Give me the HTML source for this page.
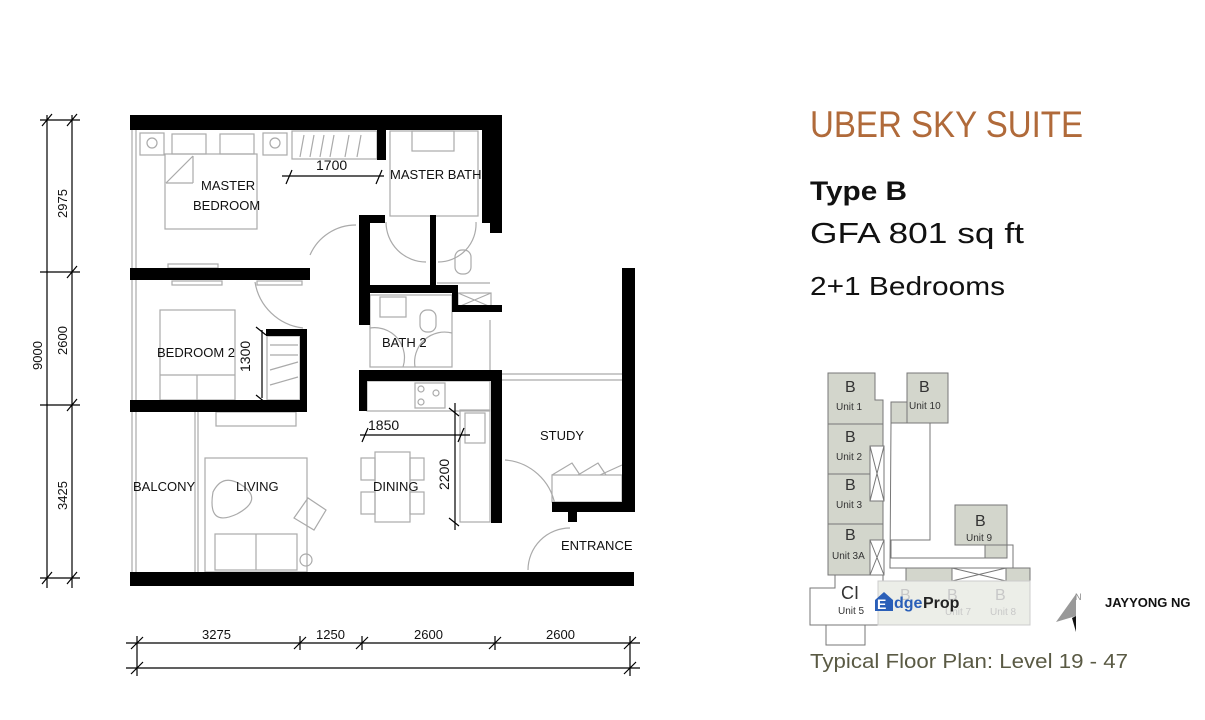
<!DOCTYPE html>
<html><head><meta charset="utf-8"><style>
html,body{margin:0;padding:0;background:#fff;}
svg{display:block;}
text{font-family:"Liberation Sans",sans-serif;}
</style></head><body>
<svg width="1205" height="720" viewBox="0 0 1205 720" xmlns="http://www.w3.org/2000/svg">
<rect width="1205" height="720" fill="#fff"/>

<!-- furniture / thin lines -->
<g fill="none" stroke="#aaa" stroke-width="1.2">
  <line x1="132" y1="130" x2="132" y2="572"/><line x1="136" y1="130" x2="136" y2="572"/>
  <rect x="165" y="154" width="92" height="75"/>
  <rect x="172" y="134" width="34" height="20"/><rect x="220" y="134" width="34" height="20"/>
  <line x1="166" y1="183" x2="193" y2="156"/><line x1="193" y1="156" x2="193" y2="183"/><line x1="166" y1="183" x2="193" y2="183"/>
  <rect x="140" y="133" width="24" height="22"/><circle cx="152" cy="143" r="5"/>
  <rect x="263" y="133" width="24" height="22"/><circle cx="275" cy="143" r="5"/>
  <rect x="292" y="131" width="85" height="28"/>
  <path d="M300 157l4-22M310 157l4-22M320 157l4-22M330 157l4-22M345 157l4-22M357 157l4-22"/>
  <rect x="390" y="131" width="88" height="85"/><rect x="412" y="131" width="42" height="20"/>
  <line x1="485" y1="130" x2="485" y2="215"/>
  <path d="M310 255 A50 50 0 0 1 356 225"/>
  <path d="M386 222 A40 40 0 0 0 426 262"/>
  <path d="M438 262 A38 38 0 0 0 476 222"/>
  <rect x="455" y="250" width="16" height="24" rx="7"/>
  <line x1="437" y1="283" x2="490" y2="283"/>
  <rect x="458" y="293" width="33" height="14"/><path d="M458 293l33 14M491 293l-33 14"/>
  <rect x="370" y="295" width="82" height="72"/>
  <rect x="380" y="297" width="26" height="20"/><rect x="420" y="310" width="16" height="22" rx="7"/>
  <path d="M370 328 A30 30 0 0 1 403 367"/><path d="M415 367 A30 30 0 0 1 452 333"/>
  <line x1="490" y1="320" x2="490" y2="370"/>
  <rect x="160" y="310" width="75" height="90"/>
  <line x1="160" y1="375" x2="235" y2="375"/><line x1="197" y1="375" x2="197" y2="400"/>
  <path d="M255 282 A55 55 0 0 0 303 328"/>
  <rect x="168" y="264" width="50" height="4"/><rect x="172" y="281" width="50" height="4"/><rect x="257" y="281" width="45" height="4"/>
  <rect x="267" y="336" width="33" height="64"/>
  <path d="M270 345l28 0M270 355l28 0M270 370l28 -8M270 385l28 -8"/>
  <line x1="195" y1="412" x2="195" y2="572"/><line x1="198" y1="412" x2="198" y2="572"/>
  <rect x="216" y="412" width="80" height="14"/>
  <rect x="205" y="458" width="102" height="114"/>
  <rect x="215" y="534" width="82" height="36"/><line x1="256" y1="534" x2="256" y2="570"/>
  <path d="M213 492 q10-20 30 -6 q20 14 -6 28 q-30 14 -24 -22z"/>
  <path d="M294 518 l14 -20 l18 12 l-12 20z"/>
  <circle cx="306" cy="560" r="6"/>
  <rect x="375" y="452" width="35" height="70"/>
  <rect x="361" y="458" width="14" height="22"/><rect x="361" y="492" width="14" height="22"/>
  <rect x="410" y="458" width="14" height="22"/><rect x="410" y="492" width="14" height="22"/>
  <rect x="367" y="381" width="123" height="30"/><rect x="415" y="383" width="30" height="25"/>
  <circle cx="421" cy="389" r="3"/><circle cx="436" cy="393" r="3"/><circle cx="421" cy="402" r="3"/>
  <rect x="460" y="410" width="30" height="112"/><rect x="465" y="413" width="20" height="30"/>
  <line x1="502" y1="374" x2="622" y2="374"/><line x1="502" y1="380" x2="622" y2="380"/>
  <rect x="552" y="475" width="70" height="27"/>
  <path d="M552 475l20-12 8 12M578 475l20-12 8 12M600 475l22-10"/>
  <path d="M505 460 A55 55 0 0 1 555 505"/>
  <path d="M528 570 A42 42 0 0 1 570 528"/>
</g>

<!-- walls -->
<g fill="#000">
  <rect x="130" y="115" width="372" height="15"/>
  <rect x="482" y="115" width="20" height="108"/>
  <rect x="377" y="130" width="9" height="30"/>
  <rect x="130" y="268" width="180" height="12"/>
  <rect x="359" y="215" width="26" height="8"/>
  <rect x="359" y="215" width="11" height="110"/>
  <rect x="430" y="215" width="6" height="70"/>
  <rect x="370" y="285" width="87" height="8"/>
  <rect x="452" y="285" width="6" height="25"/>
  <rect x="452" y="305" width="50" height="7"/>
  <rect x="490" y="215" width="12" height="18"/>
  <rect x="266" y="329" width="41" height="7"/>
  <rect x="300" y="329" width="7" height="83"/>
  <rect x="130" y="400" width="177" height="12"/>
  <rect x="359" y="370" width="143" height="11"/>
  <rect x="359" y="370" width="8" height="41"/>
  <rect x="491" y="370" width="11" height="153"/>
  <rect x="622" y="268" width="13" height="244"/>
  <rect x="552" y="502" width="83" height="10"/>
  <rect x="568" y="512" width="9" height="10"/>
  <rect x="130" y="572" width="504" height="14"/>
</g>

<g stroke="#000" stroke-width="1.2" fill="none">
  <line x1="282" y1="176" x2="384" y2="176"/>
  <path d="M286 184l6-14M376 184l6-14"/>
  <line x1="262" y1="330" x2="262" y2="398"/>
  <path d="M256 327l10 8M256 395l10 8"/>
  <line x1="360" y1="435" x2="470" y2="435"/>
  <path d="M362 442l6-14M458 442l6-14"/>
  <line x1="455" y1="403" x2="455" y2="530"/>
  <path d="M449 408l10 8M449 518l10 8"/>
</g>

<g font-size="13" fill="#111">
  <text x="201" y="190">MASTER</text>
  <text x="193" y="210">BEDROOM</text>
  <text x="390" y="179">MASTER BATH</text>
  <text x="316" y="170" font-size="14">1700</text>
  <text x="157" y="357">BEDROOM 2</text>
  <text x="382" y="347">BATH 2</text>
  <text transform="translate(250,372) rotate(-90)" font-size="14">1300</text>
  <text x="368" y="430" font-size="14">1850</text>
  <text transform="translate(449,490) rotate(-90)" font-size="14">2200</text>
  <text x="540" y="440">STUDY</text>
  <text x="133" y="491">BALCONY</text>
  <text x="236" y="491">LIVING</text>
  <text x="373" y="491">DINING</text>
  <text x="561" y="550">ENTRANCE</text>
</g>

<g stroke="#000" stroke-width="1.2" fill="none">
  <line x1="47" y1="115" x2="47" y2="588"/><line x1="72" y1="115" x2="72" y2="588"/>
  <path d="M40 120h40M40 272h40M40 405h40M40 578h40"/>
  <path d="M42 126l10-12M67 126l10-12M67 278l10-12M67 411l10-12M42 584l10-12M67 584l10-12"/>
  <line x1="126" y1="643" x2="640" y2="643"/><line x1="126" y1="668" x2="640" y2="668"/>
  <path d="M137 636v40M300 636v14M362 636v14M495 636v14M630 636v40"/>
  <path d="M131 649l12-12M294 649l12-12M356 649l12-12M489 649l12-12M624 649l12-12M131 674l12-12M624 674l12-12"/>
</g>
<g font-size="13" fill="#111">
  <text transform="translate(67,218) rotate(-90)">2975</text>
  <text transform="translate(67,355) rotate(-90)">2600</text>
  <text transform="translate(67,510) rotate(-90)">3425</text>
  <text transform="translate(42,370) rotate(-90)">9000</text>
  <text x="202" y="639">3275</text>
  <text x="316" y="639">1250</text>
  <text x="414" y="639">2600</text>
  <text x="546" y="639">2600</text>
</g>

<text x="810" y="137" font-size="37" fill="#b06a3a" textLength="273" lengthAdjust="spacingAndGlyphs">UBER SKY SUITE</text>
<text x="810" y="200" font-size="27" font-weight="bold" fill="#111" textLength="97" lengthAdjust="spacingAndGlyphs">Type B</text>
<text x="810" y="243" font-size="29" fill="#111" textLength="214" lengthAdjust="spacingAndGlyphs">GFA 801 sq ft</text>
<text x="810" y="295" font-size="26" fill="#111" textLength="195" lengthAdjust="spacingAndGlyphs">2+1 Bedrooms</text>

<!-- key plan -->
<g stroke="#777" stroke-width="1" fill="#fff">
  <path d="M891 423h39v117h-39v18h116v-13h6v25h17v-2h-140z"/>
</g>
<g stroke="#777" stroke-width="1" fill="#d3d6cc">
  <path d="M828 373h47v27h8v175h-55z"/>
  <line x1="828" y1="424" x2="883" y2="424"/><line x1="828" y1="474" x2="883" y2="474"/><line x1="828" y1="524" x2="883" y2="524"/>
  <rect x="907" y="373" width="41" height="50"/>
  <rect x="891" y="402" width="16" height="21"/>
  <rect x="955" y="505" width="52" height="40"/>
  <rect x="985" y="545" width="22" height="13"/>
  <rect x="906" y="568" width="124" height="13"/>
</g>
<g stroke="#777" stroke-width="1" fill="#fff">
  <rect x="870" y="446" width="14" height="55"/><path d="M870 446l14 55M884 446l-14 55"/>
  <rect x="870" y="540" width="14" height="35"/><path d="M870 540l14 35M884 540l-14 35"/>
  <path d="M810 588h25v-13h48v50h-73z"/>
  <rect x="826" y="625" width="39" height="20"/>
  <path d="M952 568h54v13h-54z"/><path d="M952 568l54 13M1006 568l-54 13"/>
</g>
<g fill="#eceee8" stroke="#ccc" stroke-width="1">
  <rect x="878" y="581" width="152" height="44"/>
</g>
<g fill="#333" font-size="10">
  <text x="845" y="392" font-size="16">B</text><text x="836" y="410">Unit 1</text>
  <text x="919" y="392" font-size="16">B</text><text x="909" y="409">Unit 10</text>
  <text x="845" y="442" font-size="16">B</text><text x="836" y="460">Unit 2</text>
  <text x="845" y="490" font-size="16">B</text><text x="836" y="508">Unit 3</text>
  <text x="845" y="540" font-size="16">B</text><text x="832" y="559">Unit 3A</text>
  <text x="975" y="526" font-size="16">B</text><text x="966" y="541">Unit 9</text>
  <text x="841" y="599" font-size="18">CI</text><text x="838" y="614">Unit 5</text>
  <g fill="#c8c8c8"><text x="900" y="600" font-size="16">B</text><text x="947" y="600" font-size="16">B</text><text x="995" y="600" font-size="16">B</text><text x="990" y="615">Unit 8</text><text x="945" y="615">Unit 7</text></g>
</g>
<path d="M875 600l9-8 9 8v11h-18z" fill="#2a5fb8"/>
<text x="877" y="609" font-size="14" font-weight="bold" fill="#fff">E</text>
<text x="894" y="608" font-size="16" font-weight="bold" fill="#2a5fb8">dge</text>
<text x="923" y="608" font-size="16" font-weight="bold" fill="#222">Prop</text>
<path d="M1056 622l20-28v22z" fill="#999"/>
<path d="M1076 616v16l-4-14z" fill="#111"/>
<text x="1075" y="600" font-size="9" fill="#888">N</text>
<text x="1105" y="607" font-size="13" font-weight="bold" fill="#111">JAYYONG NG</text>

<text x="810" y="668" font-size="20" fill="#5a5a44" textLength="318" lengthAdjust="spacingAndGlyphs">Typical Floor Plan: Level 19 - 47</text>
</svg>
</body></html>
